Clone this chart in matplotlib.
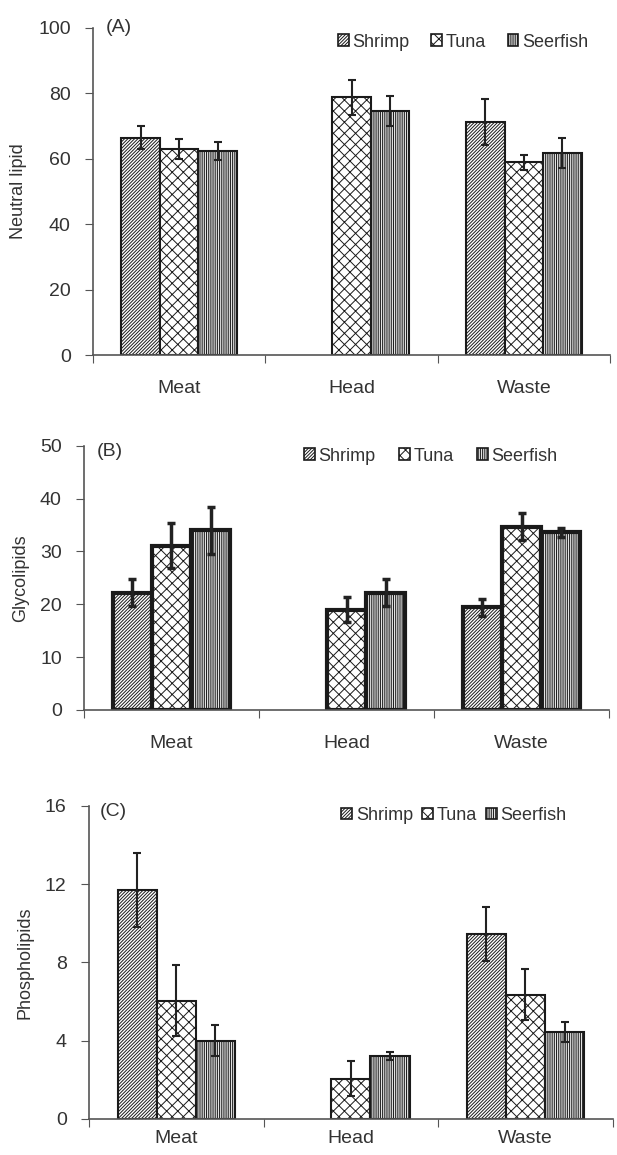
import numpy as np
import matplotlib.pyplot as plt
from matplotlib.patches import Patch

plt.rcParams['font.family'] = ['Liberation Sans', 'DejaVu Sans']
plt.rcParams['hatch.linewidth'] = 0.7
plt.rcParams['text.color'] = '#333333'

parts = ['Meat', 'Head', 'Waste']
species = ['Shrimp', 'Tuna', 'Seerfish']

# panel A - neutral lipid (NaN = not measured)
neutral = {'Shrimp': [66.5, np.nan, 71.3], 'Tuna': [63.0, 78.8, 59.0], 'Seerfish': [62.3, 74.5, 61.9]}
neutral_err = {'Shrimp': [3.5, np.nan, 7.0], 'Tuna': [3.0, 5.3, 2.3], 'Seerfish': [2.7, 4.6, 4.6]}

# panel B - glycolipids
glyco = {'Shrimp': [22.2, np.nan, 19.4], 'Tuna': [31.1, 19.0, 34.7], 'Seerfish': [34.0, 22.2, 33.6]}
glyco_err = {'Shrimp': [2.6, np.nan, 1.6], 'Tuna': [4.2, 2.4, 2.5], 'Seerfish': [4.4, 2.6, 0.9]}

# panel C - phospholipids
phospho = {'Shrimp': [11.7, np.nan, 9.45], 'Tuna': [6.05, 2.05, 6.35], 'Seerfish': [4.0, 3.2, 4.45]}
phospho_err = {'Shrimp': [1.9, np.nan, 1.4], 'Tuna': [1.8, 0.9, 1.3], 'Seerfish': [0.8, 0.2, 0.5]}

hatches = {'Shrimp': '//////////', 'Tuna': 'xxx', 'Seerfish': '|||||||||'}

panels = [
    dict(vals=neutral, err=neutral_err, ylabel='Neutral lipid', ymax=100, step=20, tag='(A)',
         rect=[0.1507, 0.6926, 0.838, 0.2832], lw=1.5, elw=1.5,
         leg=(0.474, 0.957), colsp=1.2, tagpos=(0.025, 1.0), pad=18),
    dict(vals=glyco, err=glyco_err, ylabel='Glycolipids', ymax=50, step=10, tag='(B)',
         rect=[0.1361, 0.3853, 0.851, 0.2288], lw=3, elw=2.5,
         leg=(0.419, 0.961), colsp=1.3, tagpos=(0.025, 0.977), pad=18),
    dict(vals=phospho, err=phospho_err, ylabel='Phospholipids', ymax=16, step=4, tag='(C)',
         rect=[0.1442, 0.0312, 0.849, 0.2712], lw=1.5, elw=1.5,
         leg=(0.482, 0.970), colsp=0.5, tagpos=(0.02, 0.98), pad=8),
]

fig = plt.figure(figsize=(6.17, 11.55), dpi=100)
x = np.arange(len(parts)) + 0.5
w = 0.224

for p in panels:
    ax = fig.add_axes(p['rect'])
    for i, s in enumerate(species):
        xs = x + (i - 1) * w
        ax.bar(xs, p['vals'][s], w, color='white', edgecolor='#1a1a1a',
               hatch=hatches[s], linewidth=p['lw'], zorder=2)
        ax.errorbar(xs, p['vals'][s], yerr=p['err'][s], fmt='none', ecolor='#222222',
                    elinewidth=p['elw'], capsize=3.2, capthick=p['elw'], zorder=3)

    ax.set_xlim(0, 3)
    ax.set_ylim(0, p['ymax'])
    ax.set_yticks(np.arange(0, p['ymax'] + 1, p['step']))
    ax.set_xticks([0, 1, 2, 3])
    ax.set_xticklabels([])
    ax.set_xticks(x, minor=True)
    ax.set_xticklabels(parts, minor=True)
    ax.tick_params(axis='x', which='minor', length=0, pad=p['pad'], labelsize=14, labelcolor='#333333')
    ax.tick_params(axis='x', which='major', length=6, direction='out', color='#555555')
    ax.tick_params(axis='y', length=6, direction='out', color='#555555', labelsize=14,
                   labelcolor='#333333', pad=10)
    for sp in ['top', 'right']:
        ax.spines[sp].set_visible(False)
    for sp in ['left', 'bottom']:
        ax.spines[sp].set_color('#555555')
        ax.spines[sp].set_linewidth(1.2)
    ax.set_ylabel(p['ylabel'], fontsize=13, color='#333333', labelpad=8)
    ax.text(p['tagpos'][0], p['tagpos'][1], p['tag'], transform=ax.transAxes, fontsize=14,
            va='center', ha='left')

    handles = [Patch(facecolor='white', edgecolor='#1a1a1a', hatch=hatches[s], linewidth=1.2)
               for s in species]
    ax.legend(handles, species, loc='center left', bbox_to_anchor=p['leg'], ncol=3,
              frameon=False, fontsize=13, handlelength=0.6, handleheight=0.6,
              handletextpad=0.2, columnspacing=p['colsp'], borderaxespad=0, borderpad=0)

fig.savefig('out.png', dpi=100)
